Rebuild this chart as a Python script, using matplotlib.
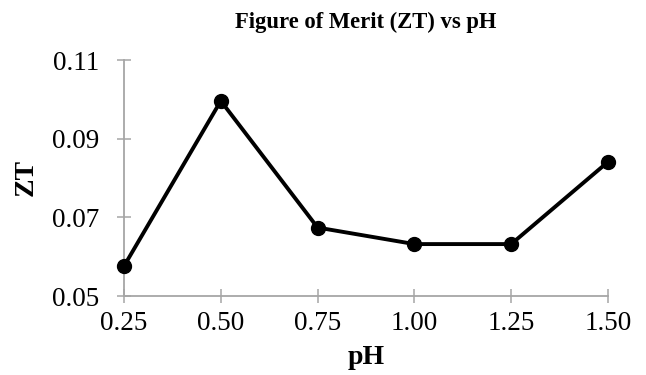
import matplotlib
matplotlib.use('Agg')
import matplotlib.pyplot as plt

# pH values and figure of merit
ph = [0.25, 0.50, 0.75, 1.00, 1.25, 1.50]
zt = [0.0576, 0.0996, 0.0674, 0.0632, 0.0632, 0.0841]
xticks = [0.25, 0.50, 0.75, 1.00, 1.25, 1.50]
yticks = [0.05, 0.07, 0.09, 0.11]

plt.rcParams['font.family'] = ['Liberation Serif', 'DejaVu Serif']

fig = plt.figure(figsize=(6.46, 3.75), dpi=100)
ax = fig.add_axes([124 / 646, 79 / 375, 484 / 646, 236 / 375])

ax.plot(ph, zt, color='black', lw=2.8, marker='o', markersize=10,
        solid_joinstyle='miter', clip_on=False, zorder=3)

ax.set_xlim(0.25, 1.50)
ax.set_ylim(0.05, 0.11)
ax.set_xticks(xticks)
ax.set_xticklabels([f'{v:.2f}' for v in xticks])
ax.set_yticks(yticks)
ax.set_yticklabels([f'{v:.2f}' for v in yticks])

for side in ('top', 'right'):
    ax.spines[side].set_visible(False)
for side in ('left', 'bottom'):
    ax.spines[side].set_color('#a6a6a6')
    ax.spines[side].set_linewidth(1.3)

ax.tick_params(axis='both', direction='inout', length=10, width=1.1,
               color='#a6a6a6', labelsize=19.5, labelcolor='black')
ax.tick_params(axis='x', pad=6)
ax.tick_params(axis='y', pad=12.5)

ax.set_title('Figure of Merit (ZT) vs pH', fontsize=16.3, fontweight='bold', pad=23)
ax.set_xlabel('pH', fontsize=20, fontweight='bold', labelpad=6)
ax.set_ylabel('ZT', fontsize=20, fontweight='bold', labelpad=10)

fig.savefig('out.png', dpi=100)
